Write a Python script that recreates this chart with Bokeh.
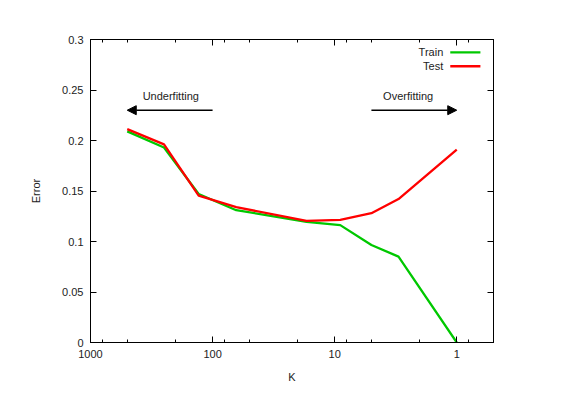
from bokeh.plotting import figure
from bokeh.models import (Range1d, FixedTicker, LogAxis, LinearAxis, Label, Arrow,
                          NormalHead)
from bokeh.embed import file_html
from bokeh.resources import INLINE

# ---- data ----
k_values = [500, 250, 130, 64, 17, 9, 5, 3, 1]
train_error = [0.209, 0.193, 0.147, 0.131, 0.1195, 0.1162, 0.0965, 0.085, 0.0]
test_error = [0.2112, 0.1962, 0.1455, 0.134, 0.1205, 0.1215, 0.128, 0.142, 0.191]

x_ticks = [1000, 100, 10, 1]
x_tick_labels = ["1000", "100", "10", "1"]
x_minor_ticks = [800, 500, 200, 80, 50, 20, 8, 5, 2, 0.8, 0.5]
y_ticks = [0, 0.05, 0.1, 0.15, 0.2, 0.25, 0.3]
y_tick_labels = ["0", "0.05", "0.1", "0.15", "0.2", "0.25", "0.3"]

series_names = ["Train", "Test"]
series_colors = ["#00c800", "#ff0000"]

# annotation positions (data units)
under_arrow = dict(x_start=100, x_end=500, y=0.23)
over_arrow = dict(x_start=5, x_end=1, y=0.23)
under_text = dict(x=220, y=0.2443, text="Underfitting")
over_text = dict(x=2.5, y=0.2443, text="Overfitting")
legend_text_x = 1.29
legend_line_x = (1.13, 0.64)
legend_y = [0.2873, 0.2735]

FONT = "Liberation Sans"

p = figure(x_axis_type="log", x_range=Range1d(1000, 0.5), y_range=Range1d(0, 0.3),
           frame_width=403, frame_height=303,
           min_border_left=90, min_border_right=61, min_border_top=39, min_border_bottom=45,
           output_backend="svg", toolbar_location=None,
           background_fill_color="white", border_fill_color="white")
p.xgrid.visible = False
p.ygrid.visible = False
p.outline_line_color = "black"
p.outline_line_width = 1

xticker = FixedTicker(ticks=x_ticks, minor_ticks=x_minor_ticks)
yticker = FixedTicker(ticks=y_ticks, minor_ticks=[])


def style_axis(ax, show_labels=True):
    ax.axis_line_color = "black"
    ax.major_tick_in = 6
    ax.major_tick_out = 0
    ax.minor_tick_in = 3
    ax.minor_tick_out = 0
    ax.major_tick_line_color = "black"
    ax.minor_tick_line_color = "black"
    ax.major_label_text_font = FONT
    ax.major_label_text_font_size = "11px"
    ax.major_label_text_color = "#222222" if show_labels else None
    ax.axis_label_text_font = FONT
    ax.axis_label_text_font_size = "11px"
    ax.axis_label_text_font_style = "normal"
    ax.axis_label_text_color = "#222222"


xa = p.xaxis[0]
xa.ticker = xticker
xa.major_label_overrides = {t: l for t, l in zip(x_ticks, x_tick_labels)}
xa.axis_label = "K"
style_axis(xa)
xa.major_label_standoff = 7
xa.axis_label_standoff = 10

ya = p.yaxis[0]
ya.ticker = yticker
ya.major_label_overrides = {t: l for t, l in zip(y_ticks, y_tick_labels)}
ya.axis_label = "Error"
style_axis(ya)
ya.minor_tick_in = 0
ya.major_label_standoff = 7
ya.axis_label_standoff = 17

top = LogAxis(ticker=xticker, major_label_overrides={t: "" for t in x_ticks})
style_axis(top, show_labels=False)
p.add_layout(top, "above")
right = LinearAxis(ticker=yticker, major_label_overrides={t: "" for t in y_ticks})
style_axis(right, show_labels=False)
right.minor_tick_in = 0
p.add_layout(right, "right")

# series lines
p.line(k_values, train_error, line_color=series_colors[0], line_width=2.3)
p.line(k_values, test_error, line_color=series_colors[1], line_width=2.3)

# arrows + texts
for a in (under_arrow, over_arrow):
    p.add_layout(Arrow(x_start=a["x_start"], y_start=a["y"], x_end=a["x_end"], y_end=a["y"],
                       line_color="black", line_width=1.6,
                       end=NormalHead(size=9, fill_color="black", line_color="black",
                                      line_width=1)))
for t in (under_text, over_text):
    p.add_layout(Label(x=t["x"], y=t["y"], text=t["text"], text_align="center",
                       text_baseline="middle", text_font=FONT, text_font_size="11px",
                       text_color="#222222"))

# legend (gnuplot style: text left of key line)
for name, color, y in zip(series_names, series_colors, legend_y):
    p.add_layout(Label(x=legend_text_x, y=y, text=name, text_align="right",
                       text_baseline="middle", text_font=FONT, text_font_size="11px",
                       text_color="#222222"))
    p.add_layout(Arrow(x_start=legend_line_x[0], y_start=y, x_end=legend_line_x[1], y_end=y,
                       end=None, line_color=color, line_width=2.3))

open("out.html", "w").write(file_html(p, INLINE))
